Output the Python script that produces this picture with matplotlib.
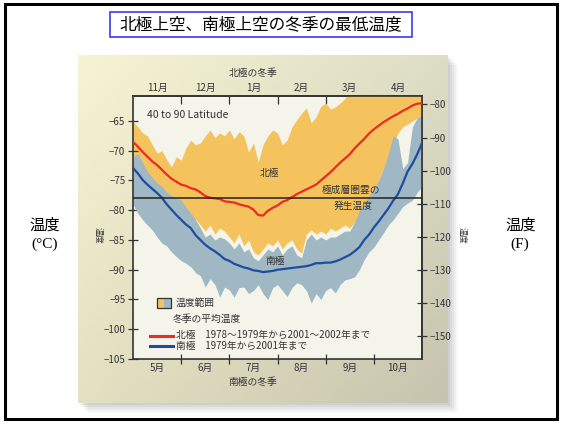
import numpy as np
import matplotlib
matplotlib.use("Agg")
import matplotlib.pyplot as plt
from matplotlib.patches import Rectangle

plt.rcParams['font.family'] = ['Noto Sans CJK JP', 'DejaVu Sans']

# ---- data (months since start of winter, °C) ----
month_pos = np.linspace(0, 6, 61)

north_mean = [-68.5, -69.3, -70.2, -71.0, -71.8, -72.4, -73.2, -74.0, -74.7, -75.2,
              -75.7, -75.9, -76.3, -76.5, -77.0, -77.6, -77.9, -78.0, -78.1, -78.5,
              -78.6, -78.7, -79.0, -79.2, -79.4, -79.9, -80.8, -80.9, -80.1, -79.6,
              -79.2, -78.6, -78.3, -77.8, -77.3, -76.9, -76.5, -76.1, -75.7, -75.0,
              -74.3, -73.6, -72.8, -72.0, -71.3, -70.6, -69.6, -68.8, -68.0, -67.1,
              -66.4, -65.8, -65.2, -64.7, -64.2, -63.8, -63.3, -62.9, -62.4, -62.1,
              -62.0]

south_mean = [-72.9, -73.8, -74.9, -75.7, -76.4, -77.1, -77.9, -79.0, -79.9, -80.8,
              -81.6, -82.4, -83.0, -84.2, -85.0, -85.8, -86.4, -86.9, -87.5, -88.2,
              -88.5, -89.0, -89.3, -89.6, -89.8, -90.1, -90.2, -90.4, -90.3, -90.2,
              -90.0, -89.9, -89.8, -89.7, -89.6, -89.5, -89.4, -89.2, -88.9, -88.9,
              -88.8, -88.8, -88.6, -88.3, -87.9, -87.5, -86.9, -86.2, -85.0, -84.1,
              -82.9, -81.9, -80.8, -79.7, -78.4, -77.3, -75.5, -73.5, -72.2, -70.6,
              -68.7]

north_max = [-65.0, -66.0, -67.0, -67.5, -69.0, -70.4, -70.0, -71.5, -72.7, -71.0,
             -71.6, -69.5, -68.2, -69.0, -68.7, -67.5, -66.5, -67.8, -67.0, -67.5,
             -66.5, -68.0, -66.8, -67.5, -70.2, -68.7, -71.9, -69.0, -67.5, -66.5,
             -67.0, -69.0, -68.2, -66.0, -64.8, -63.7, -62.8, -65.3, -64.3, -62.5,
             -62.0, -63.0, -62.6, -62.0, -61.2, -60.0, -60.0, -60.0, -60.0, -60.0,
             -60.0, -60.0, -60.0, -60.0, -60.0, -60.0, -60.0, -60.0, -60.0, -60.0,
             -60.0]

north_min = [-76.0, -76.0, -77.0, -77.0, -78.0, -78.5, -79.0, -79.5, -80.0, -80.5,
             -81.0, -81.5, -82.0, -81.5, -82.5, -83.5, -82.5, -84.0, -83.0, -83.5,
             -84.5, -85.5, -84.0, -86.0, -85.0, -87.0, -87.5, -86.5, -85.5, -86.0,
             -85.0, -86.5, -85.5, -85.0, -86.5, -87.2, -84.0, -83.3, -84.0, -83.5,
             -84.0, -83.0, -83.5, -83.0, -82.5, -83.0, -82.0, -81.0, -79.5, -78.5,
             -77.0, -75.0, -73.0, -71.0, -69.0, -67.0, -66.0, -65.5, -65.0, -64.5,
             -64.0]

south_max = [-71.0, -70.5, -72.0, -73.5, -74.5, -75.4, -76.0, -77.0, -77.5, -78.0,
             -78.3, -79.5, -80.5, -81.6, -83.0, -84.5, -84.0, -85.0, -84.5, -84.8,
             -85.5, -86.5, -85.5, -87.0, -86.5, -88.0, -88.5, -87.5, -86.5, -87.0,
             -86.0, -87.5, -86.5, -86.0, -87.5, -88.0, -85.0, -84.0, -85.0, -84.5,
             -85.0, -84.5, -84.5, -84.0, -83.5, -83.5, -82.0, -80.0, -79.0, -77.5,
             -76.5, -75.0, -73.0, -70.5, -67.5, -68.0, -73.0, -72.0, -66.0, -64.5,
             -64.0]

south_min = [-79.0, -80.5, -81.6, -82.5, -83.3, -84.5, -85.5, -86.0, -87.0, -87.8,
             -88.5, -88.9, -89.5, -90.5, -91.0, -92.9, -91.5, -92.5, -94.6, -92.9,
             -93.4, -94.6, -93.0, -92.9, -94.0, -93.5, -92.5, -94.0, -95.0, -93.0,
             -92.5, -93.5, -94.5, -93.0, -92.2, -92.5, -93.5, -95.6, -94.0, -95.0,
             -93.5, -93.0, -93.9, -92.5, -91.7, -91.5, -91.2, -90.0, -88.3, -87.0,
             -86.2, -85.0, -83.8, -82.5, -81.6, -80.5, -79.4, -78.8, -78.3, -77.0,
             -76.0]

psc_temp = -78.0

north_months = ['11月', '12月', '1月', '2月', '3月', '4月']
south_months = ['5月', '6月', '7月', '8月', '9月', '10月']
celsius_ticks = [-65, -70, -75, -80, -85, -90, -95, -100, -105]
fahrenheit_ticks = [-80, -90, -100, -110, -120, -130, -140, -150]

# ---- figure ----
W, H = 563, 424
fig = plt.figure(figsize=(W / 100, H / 100), dpi=100)
fig.patch.set_facecolor('white')


def fx(px):
    return px / W


def fy(py):
    return 1 - py / H


# outer frame
fig.patches.append(Rectangle((fx(5), fy(419)), fx(552), 415 / H, transform=fig.transFigure,
                             fill=False, edgecolor='black', linewidth=2.2, zorder=0))

# soft shadow behind the chart panel
for i, a in enumerate([0.04, 0.05, 0.06, 0.07, 0.08]):
    off = 10 - 2 * i
    fig.patches.append(Rectangle((fx(78 + off), fy(403 + off)), fx(370), 348 / H,
                                 transform=fig.transFigure, facecolor='#505050',
                                 edgecolor='none', alpha=a, zorder=-1))

# gradient panel
bg = fig.add_axes([fx(78), fy(403), fx(370), 348 / H])
bg.set_zorder(1)
gy, gx = np.mgrid[0:1:100j, 0:1:100j]
tl = np.array([246, 244, 210]) / 255
tr = np.array([222, 221, 198]) / 255
bl = np.array([228, 224, 194]) / 255
br = np.array([198, 196, 174]) / 255
grad = (tl * ((1 - gx) * (1 - gy))[..., None] + tr * (gx * (1 - gy))[..., None]
        + bl * ((1 - gx) * gy)[..., None] + br * (gx * gy)[..., None])
bg.imshow(grad, aspect='auto', extent=[0, 1, 0, 1], origin='upper')
bg.set_axis_off()

# main plot
ax = fig.add_axes([fx(133), fy(359), fx(289), 263 / H])
ax.set_zorder(2)
ax.set_facecolor('#F4F4EA')
ax.set_xlim(0, 6)
ax.set_ylim(-105, -60.8)

ax.fill_between(month_pos, north_min, north_max, color='#F5C35E', linewidth=0, zorder=1)
ax.fill_between(month_pos, south_min, south_max, color='#9FB8C3', linewidth=0, zorder=2)
ax.plot(month_pos, north_mean, color='#EE2A24', linewidth=1.6, zorder=4)
ax.plot(month_pos, south_mean, color='#1F4C9E', linewidth=1.6, zorder=4)
ax.axhline(psc_temp, color='#222222', linewidth=1.1, zorder=5)

for sp in ax.spines.values():
    sp.set_color('#333333')
    sp.set_linewidth(1.2)

tick_color = '#333333'
ax.set_yticks(celsius_ticks)
ax.tick_params(axis='y', direction='inout', length=7, width=0.9, labelsize=7,
               colors=tick_color, pad=2)
ax.set_xticks([1, 2, 3, 4, 5])
ax.set_xticklabels([])
ax.set_xticks(np.arange(6) + 0.5, south_months, minor=True)
ax.tick_params(axis='x', which='major', direction='inout', length=7, width=0.9,
               colors=tick_color)
ax.tick_params(axis='x', which='minor', length=0, labelsize=7, colors=tick_color, pad=3)


def c2f(c):
    return c * 9 / 5 + 32


def f2c(f):
    return (f - 32) * 5 / 9


ry = ax.secondary_yaxis('right', functions=(c2f, f2c))
ry.set_yticks(fahrenheit_ticks)
ry.tick_params(direction='inout', length=7, width=0.9, labelsize=7, colors=tick_color, pad=2)
ry.spines['right'].set_color('#333333')
ry.spines['right'].set_linewidth(1.2)

tx = ax.secondary_xaxis('top')
tx.set_xticks([1, 2, 3, 4, 5])
tx.set_xticklabels([])
tx.set_xticks(np.arange(6) + 0.5, north_months, minor=True)
tx.tick_params(which='major', direction='in', length=6, width=0.9, colors=tick_color)
tx.tick_params(which='minor', length=0, labelsize=7, colors=tick_color, pad=2)
tx.spines['top'].set_color('#333333')
tx.spines['top'].set_linewidth(1.2)

# annotations inside the plot
txt = dict(color='#333333', fontsize=7)
ax.text(0.048, 0.928, '40 to 90 Latitude', transform=ax.transAxes, va='center',
        ha='left', fontsize=7.5, color='#333333', zorder=6)
ax.text(2.84, -73.7, '北極', ha='center', va='center', zorder=6, **txt)
ax.text(2.95, -88.6, '南極', ha='center', va='center', zorder=6, **txt)
ax.text(4.53, -76.6, '極成層圏雲の', ha='center', va='center', zorder=6, **txt)
ax.text(4.58, -79.2, '発生温度', ha='center', va='center', zorder=6, **txt)

# legend
ax.add_patch(Rectangle((0.083, 0.194), 0.024, 0.038, transform=ax.transAxes,
                       facecolor='#F5C35E', edgecolor='none', zorder=6))
ax.add_patch(Rectangle((0.107, 0.194), 0.024, 0.038, transform=ax.transAxes,
                       facecolor='#9FB8C3', edgecolor='none', zorder=6))
ax.add_patch(Rectangle((0.083, 0.194), 0.048, 0.038, transform=ax.transAxes,
                       fill=False, edgecolor='#333333', linewidth=0.9, zorder=7))
ax.text(0.148, 0.213, '温度範囲', transform=ax.transAxes, va='center', ha='left',
        zorder=6, **txt)
ax.text(0.136, 0.152, '冬季の平均温度', transform=ax.transAxes, va='center', ha='left',
        zorder=6, **txt)
ax.plot([0.059, 0.138], [0.088, 0.088], transform=ax.transAxes, color='#EE2A24',
        linewidth=2.2, zorder=6)
ax.plot([0.059, 0.138], [0.049, 0.049], transform=ax.transAxes, color='#1F4C9E',
        linewidth=2.2, zorder=6)
ax.text(0.150, 0.090, '北極　1978～1979年から2001～2002年まで', transform=ax.transAxes,
        va='center', ha='left', zorder=6, **txt)
ax.text(0.150, 0.051, '南極　1979年から2001年まで', transform=ax.transAxes,
        va='center', ha='left', zorder=6, **txt)

# axis captions
fig.text(fx(253), fy(73), '北極の冬季', ha='center', va='center', fontsize=7,
         color='#333333', zorder=3)
fig.text(fx(253), fy(382), '南極の冬季', ha='center', va='center', fontsize=7,
         color='#333333', zorder=3)
fig.text(fx(98), fy(235), '温度', ha='center', va='center', fontsize=6, color='#333333',
         rotation=270, zorder=3)
fig.text(fx(462), fy(235), '温度', ha='center', va='center', fontsize=6, color='#333333',
         rotation=270, zorder=3)

# side labels
fig.text(fx(45), fy(225), '温度', ha='center', va='center', fontsize=11, color='black')
fig.text(fx(45), fy(244), '(°C)', ha='center', va='center', fontsize=11, color='black',
         family=['Liberation Serif', 'DejaVu Serif'])
fig.text(fx(521), fy(225), '温度', ha='center', va='center', fontsize=11, color='black')
fig.text(fx(520), fy(244), '(F)', ha='center', va='center', fontsize=11, color='black',
         family=['Liberation Serif', 'DejaVu Serif'])

# title with blue frame
fig.patches.append(Rectangle((fx(110), fy(37)), fx(302), 25 / H, transform=fig.transFigure,
                             facecolor='white', edgecolor='#3B3BF0', linewidth=1.2, zorder=1))
fig.text(fx(261), fy(24.5), '北極上空、南極上空の冬季の最低温度', ha='center', va='center',
         fontsize=12, color='black', zorder=2)

fig.savefig('out.png', dpi=100)
